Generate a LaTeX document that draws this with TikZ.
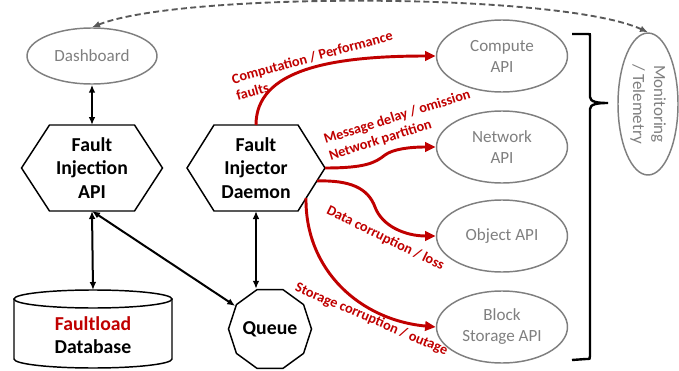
\documentclass[tikz,border=0pt]{standalone}
\usepackage{fontspec}
\setmainfont{Carlito}
\usetikzlibrary{shapes.geometric,arrows.meta}

\definecolor{fltred}{RGB}{192,0,0}
\definecolor{fltgray}{RGB}{127,127,127}
\definecolor{dashgray}{RGB}{89,89,89}

% outline of a flat topped hexagon round a node
\newcommand{\hexoutline}[2]{%
	\draw [line width=1.1pt] (#1.west) -- ([shift={(#2,0)}]#1.north west) -- ([shift={(-#2,0)}]#1.north east) -- (#1.east) -- ([shift={(-#2,0)}]#1.south east) -- ([shift={(#2,0)}]#1.south west) -- cycle ;}

\tikzset{every picture/.style={line width=0.75pt}}

\begin{document}
\begin{tikzpicture}[x=0.75pt,y=0.75pt,yscale=-1,xscale=1,
	apiell/.style={ellipse, draw=fltgray, line width=1.1pt, text=fltgray, inner sep=0pt, minimum width=98.25pt, minimum height=54pt, align=center, font=\fontsize{12.8}{15.75}\selectfont},
	hexnode/.style={inner sep=0pt, outer sep=0pt, minimum width=105.75pt, minimum height=64.5pt, align=center, font=\fontsize{14.8}{17.6}\selectfont\bfseries},
	faultlbl/.style={text=fltred, inner sep=0pt, anchor=north west, align=left, font=\fontsize{10.7}{12.8}\selectfont\bfseries},
	faultarr/.style={draw=fltred, line width=2.2pt, -{Triangle[length=8pt,width=7pt]}},
	linkarr/.style={line width=1.5pt, {Latex[length=6pt,width=5pt]}-{Latex[length=6pt,width=5pt]}}]
	%uncomment if require: \path (0,371); %set diagram left start at 0, and has height of 371
	\useasboundingbox (0,0) rectangle (679,371);
	
	%Shape: Ellipse
	\node (dash) [apiell, minimum width=97.5pt, minimum height=42pt] at (92,56) {Dashboard};
	%Shape: Hexagon
	\node (fiapi) [hexnode] at (92,168) {Fault\\Injection\\API};
	\hexoutline{fiapi}{28}
	%Shape: Hexagon
	\node (daemon) [hexnode, minimum width=103.5pt] at (256,168) {Fault\\Injector\\Daemon};
	\hexoutline{daemon}{27}
	%Shape: Can
	\node (db) [hexnode, minimum width=118.5pt, minimum height=67.5pt] at (93,335) {\textcolor{fltred}{Faultload}\\Database};
	\draw [line width=1.1pt] ([shift={(0,9)}]db.north west) -- ([shift={(0,69)}]db.north west) arc [start angle=180, end angle=0, x radius=79, y radius=9] -- ([shift={(0,9)}]db.north east) ;
	\draw [line width=1.1pt] ([shift={(0,9)}]db.north) ellipse [x radius=79, y radius=9] ;
	%Shape: Regular Polygon
	\node (queue) [regular polygon, regular polygon sides=10, draw, line width=1.1pt, minimum size=62.25pt, inner sep=0pt, font=\fontsize{14.8}{17.6}\selectfont\bfseries] at (270,329) {Queue};
	
	%Shape: Ellipse
	\node (comp) [apiell] at (502,56) {Compute\\API};
	\node (net) [apiell] at (502,147) {Network\\API};
	\node (obj) [apiell] at (502,236) {Object API};
	\node (blk) [apiell] at (502,327) {Block\\Storage API};
	\node (mon) [apiell, rotate=-90, minimum width=106.5pt, minimum height=45pt] at (648,104) {Monitoring\\/ Telemetry};
	
	%Straight Lines
	\draw [linkarr] (dash.south) -- (fiapi.north) ;
	\draw [linkarr] (fiapi.south) -- (db.north) ;
	\draw [linkarr] (fiapi.south) -- (queue) ;
	\draw [linkarr] (daemon.south) -- (daemon.south |- queue.north) ;
	
	%Curve Lines
	\draw [faultarr] (daemon.north) .. controls (256,70) and (330,56) .. (comp.west) ;
	\draw [faultarr] (daemon.east) .. controls (365,168) and (375,163) .. (385,155) .. controls (393,149) and (410,147) .. (net.west) ;
	\draw [faultarr] ([shift={(-8,13)}]daemon.east) .. controls (350,180) and (368,188) .. (375,207) .. controls (382,226) and (405,236) .. (obj.west) ;
	\draw [faultarr] ([shift={(-19,30)}]daemon.east) .. controls (305,270) and (360,320) .. (blk.west) ;
	%Curve Lines
	\draw [draw=dashgray, line width=1.4pt, dash pattern=on 4.5pt off 2.5pt, {Latex[length=6pt,width=5pt]}-{Latex[length=6pt,width=5pt]}] (dash.north) .. controls (180,-8) and (560,-8) .. (mon.west) ;
	
	%Shape: Brace
	\draw [line width=1.8pt] (572,34) -- (588,34) .. controls (590,34) .. (590,36) -- (590,97) .. controls (590,102) and (598,103) .. (608,103) .. controls (598,103) and (590,104) .. (590,109) -- (590,356) .. controls (590,359) .. (586,359) -- (572,360) ;
	
	% Text Node
	\node (lblcomp) [faultlbl, rotate=15.5] at (230,74) {Computation / Performance\\faults};
	% Text Node
	\node (lblnet) [faultlbl, rotate=17.5] at (322,134) {Message delay / omission\\Network partition};
	% Text Node
	\node (lbldata) [faultlbl, rotate=-26] at (330,204) {Data corruption / loss};
	% Text Node
	\node (lblstor) [faultlbl, rotate=-23] at (298,281) {Storage corruption / outage};
	
\end{tikzpicture}
\end{document}
